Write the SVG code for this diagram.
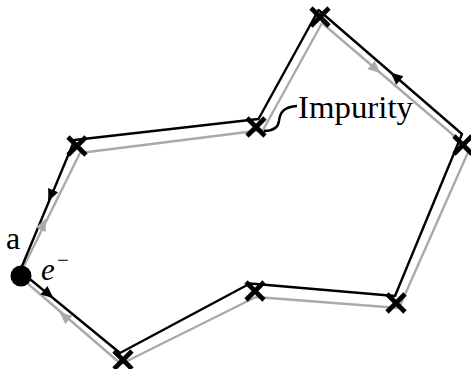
<svg xmlns="http://www.w3.org/2000/svg" width="471" height="369" viewBox="0 0 471 369">
<style>
.blk{fill:none;stroke:#000;stroke-width:2.4;stroke-linejoin:round}
.gry{fill:none;stroke:#aaaaaa;stroke-width:2.4;stroke-linejoin:round}
.cross{stroke:#000;stroke-width:4.6;fill:none}
.lbl{font-family:"Liberation Serif","DejaVu Serif",serif;fill:#000}
</style>
<defs>
<path id="ah" d="M0,0 Q-6,-2 -13,-5.5 L-13,5.5 Q-6,2 0,0 Z"/>
</defs>
<g id="connectors">
<polyline class="gry" points="19,276 121,364 256,297 399,308 469.5,149 322,23 263,130 80,153 19,276"/>
<polyline class="blk" points="20,271 120,353 250,283.5 395,296 462,134 318.5,10 258.5,119 74.5,140 20,271"/>
<use href="#ah" fill="#000" transform="translate(54,298.5) rotate(39.5)"/>
<use href="#ah" fill="#000" transform="translate(48,202) rotate(113.3)"/>
<use href="#ah" fill="#000" transform="translate(390,72) rotate(-139.1)"/>
<use href="#ah" fill="#aaaaaa" transform="translate(59,311.5) rotate(-139.3)"/>
<use href="#ah" fill="#aaaaaa" transform="translate(46.5,218) rotate(-63.4)"/>
<use href="#ah" fill="#aaaaaa" transform="translate(381,73.5) rotate(40.5)"/>
<path id="impurity-link" class="blk" d="M264,131 C272,131 278,128 279,121 C280,112 284,107 297,106"/>
</g>
<g id="node-a">
<circle cx="21" cy="276" r="10.5" fill="#000"/>
<text class="lbl" x="6" y="249" font-size="32">a</text>
<text class="lbl" x="41" y="280" font-size="31" font-style="italic">e</text>
<text class="lbl" x="57" y="267" font-size="21">−</text>
</g>
<g id="X1"><path class="cross" d="M114,351 L132,369 M114,369 L132,351"/></g>
<g id="X2"><path class="cross" d="M246,282 L264,300 M246,300 L264,282"/></g>
<g id="X3"><path class="cross" d="M387,294 L405,312 M387,312 L405,294"/></g>
<g id="X4"><path class="cross" d="M454,136 L472,154 M454,154 L472,136"/></g>
<g id="X5"><path class="cross" d="M311,8 L329,26 M311,26 L329,8"/></g>
<g id="X6"><path class="cross" d="M247,118 L265,136 M247,136 L265,118"/></g>
<g id="X7"><path class="cross" d="M68,137 L86,155 M68,155 L86,137"/></g>
<g id="impurity-label">
<text class="lbl" x="298" y="118" font-size="31" textLength="115" lengthAdjust="spacingAndGlyphs">Impurity</text>
</g>
</svg>
